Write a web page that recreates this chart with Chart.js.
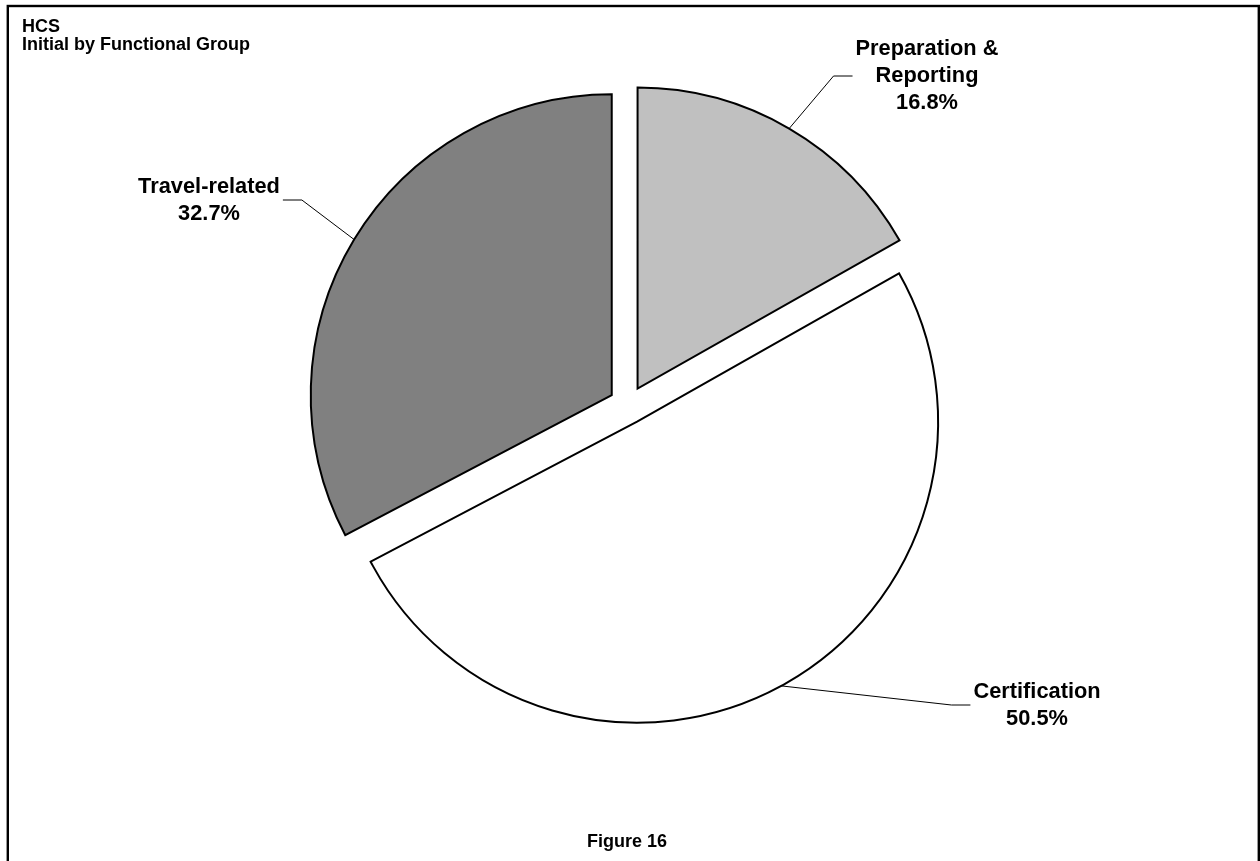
<!DOCTYPE html>
<html>
<head>
<meta charset="utf-8">
<title>HCS - Initial by Functional Group</title>
<script src="https://cdn.jsdelivr.net/npm/chart.js@4/dist/chart.umd.min.js"></script>
<style>
  html, body { margin: 0; padding: 0; background: #fff; }
  #grafico { display: block; }
</style>
</head>
<body>
<canvas id="grafico" width="1260" height="861"></canvas>
<script>
// categorias e valores (%)
var categorias = [['Preparation &', 'Reporting'], ['Certification'], ['Travel-related']];
var valores = [16.8, 50.5, 32.7];
var cores = ['#c0c0c0', '#ffffff', '#808080'];

var fonte = '"Liberation Sans", Arial, Helvetica, sans-serif';

// onde fica o centro de cada rotulo
var posRotulos = [[927, 76], [1037, 705], [209, 200]];

// afasta cada fatia do centro (pizza "explodida")
var explodir = {
    id: 'explodir',
    beforeDatasetsDraw: function(chart) {
        var area = chart.chartArea;
        var cx = (area.left + area.right) / 2;
        var cy = (area.top + area.bottom) / 2;
        chart.getDatasetMeta(0).data.forEach(function(arc) {
            var meio = (arc.startAngle + arc.endAngle) / 2;
            arc.x = cx + Math.cos(meio) * 19;
            arc.y = cy + Math.sin(meio) * 19;
        });
    }
};

// moldura, titulos, linhas de chamada e rotulos
var textos = {
    id: 'textos',
    beforeDraw: function(chart) {
        var ctx = chart.ctx;
        ctx.save();
        ctx.fillStyle = '#fff';
        ctx.fillRect(0, 0, chart.width, chart.height);
        ctx.strokeStyle = '#000';
        ctx.lineWidth = 2.4;
        ctx.strokeRect(7.8, 6, 1251, 900);
        ctx.restore();
    },
    afterDatasetsDraw: function(chart) {
        var ctx = chart.ctx;
        ctx.save();
        ctx.fillStyle = '#000';
        ctx.font = 'bold 18px ' + fonte;
        ctx.textAlign = 'left';
        ctx.textBaseline = 'alphabetic';
        ctx.fillText('HCS', 22, 32);
        ctx.fillText('Initial by Functional Group', 22, 50);
        ctx.textAlign = 'center';
        ctx.fillText('Figure 16', 627, 847);

        var meta = chart.getDatasetMeta(0);
        ctx.font = 'bold 21.8px ' + fonte;
        ctx.textBaseline = 'middle';
        meta.data.forEach(function(arc, i) {
            var meio = (arc.startAngle + arc.endAngle) / 2;
            var ax = arc.x + Math.cos(meio) * arc.outerRadius;
            var ay = arc.y + Math.sin(meio) * arc.outerRadius;
            var linhas = categorias[i].concat([valores[i].toFixed(1) + '%']);
            var lx = posRotulos[i][0], ly = posRotulos[i][1];
            var larg = 0;
            linhas.forEach(function(t) { larg = Math.max(larg, ctx.measureText(t).width); });
            var lado = ax < lx ? -1 : 1;
            var borda = lx + lado * (larg / 2 + 3);
            var cotovelo = borda + lado * 19;

            ctx.beginPath();
            ctx.strokeStyle = '#000';
            ctx.lineWidth = 1;
            ctx.moveTo(ax, ay);
            ctx.lineTo(cotovelo, ly);
            ctx.lineTo(borda, ly);
            ctx.stroke();

            linhas.forEach(function(t, k) {
                ctx.fillText(t, lx, ly + (k - (linhas.length - 1) / 2) * 27);
            });
        });
        ctx.restore();
    }
};

var ctx = document.getElementById('grafico').getContext('2d');
var grafico = new Chart(ctx, {
    type: 'pie',
    data: {
        labels: categorias,
        datasets: [{
            data: valores,
            backgroundColor: cores,
            borderColor: '#000',
            borderWidth: 2,
            borderJoinStyle: 'miter'
        }]
    },
    options: {
        responsive: false,
        animation: false,
        radius: 301,
        layout: { padding: { left: 0, right: 4, top: 0, bottom: 51 } },
        plugins: {
            legend: { display: false },
            tooltip: { enabled: false }
        }
    },
    plugins: [explodir, textos]
});
</script>
</body>
</html>
